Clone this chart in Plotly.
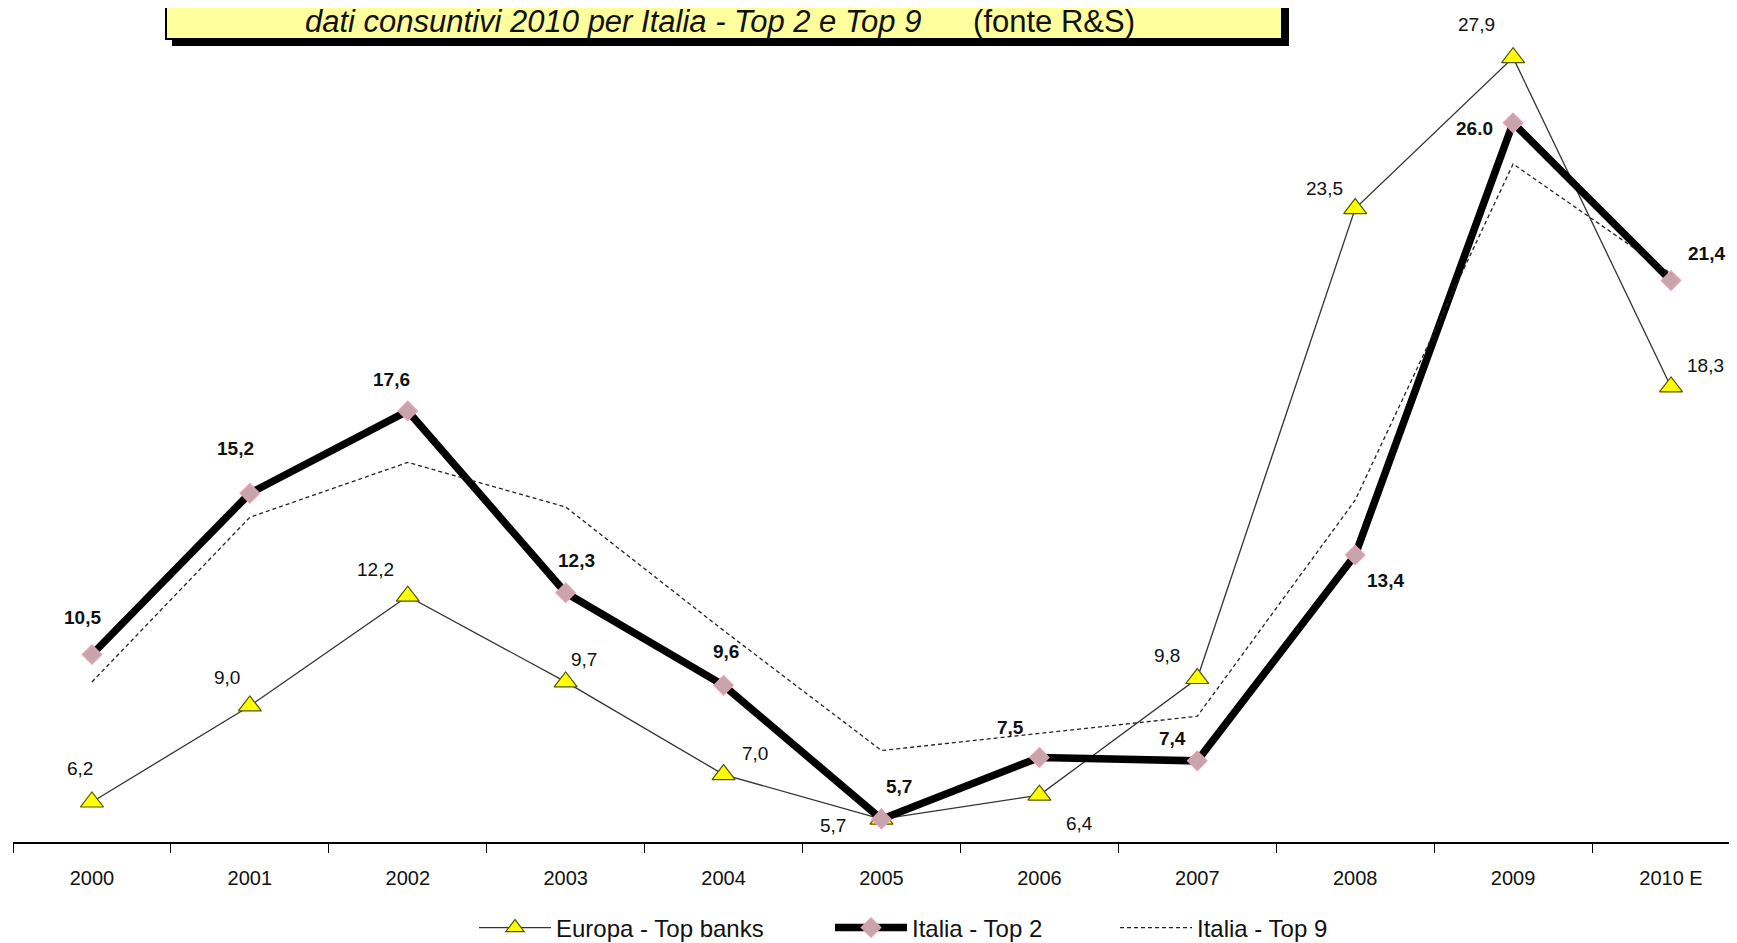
import plotly.graph_objects as go

years = ["2000", "2001", "2002", "2003", "2004", "2005", "2006", "2007", "2008", "2009", "2010 E"]
europa_top_banks = [6.2, 9.0, 12.2, 9.7, 7.0, 5.7, 6.4, 9.8, 23.5, 27.9, 18.3]
italia_top2 = [10.5, 15.2, 17.6, 12.3, 9.6, 5.7, 7.5, 7.4, 13.4, 26.0, 21.4]
italia_top9 = [9.7, 14.5, 16.1, 14.8, 11.2, 7.7, 8.2, 8.7, 15.0, 24.8, 21.6]

europa_labels = ["6,2", "9,0", "12,2", "9,7", "7,0", "5,7", "6,4", "9,8", "23,5", "27,9", "18,3"]
top2_labels = ["10,5", "15,2", "17,6", "12,3", "9,6", "5,7", "7,5", "7,4", "13,4", "26.0", "21,4"]

# label offsets in px (dx, dy up)
europa_off = [(-12, 34), (-23, 28), (-32, 27), (18, 22), (31, 21), (-48, -6),
              (40, -28), (-30, 23), (-31, 20), (-37, 33), (34, 21)]
top2_off = [(-9, 37), (-14, 45), (-16, 31), (11, 32), (2, 34), (18, 33),
            (-29, 30), (-25, 22), (30, -25), (-39, -6), (35, 27)]

FONT = "Liberation Sans, Arial, sans-serif"
OFF = 8  # page body margin
W, H = 1737 - OFF, 943 - OFF
L, R, T = 13 - OFF, 0, 0
PLOT_BOTTOM = 842 - OFF
B = H - PLOT_BOTTOM
PW, PH = W - L - R, PLOT_BOTTOM - T


def px_x(p):
    return (p - OFF - L) / PW


def px_y(p):
    return 1 - (p - OFF - T) / PH


fig = go.Figure()
fig.add_trace(go.Scatter(
    x=years, y=europa_top_banks, name="Europa - Top banks", mode="lines+markers",
    line=dict(color="#333333", width=1.3),
    marker=dict(symbol="triangle-up", size=20, color="#FFFF00",
                line=dict(color="#555500", width=1.2)),
    cliponaxis=False, legend="legend",
))
fig.add_trace(go.Scatter(
    x=years, y=italia_top2, name="Italia - Top 2", mode="lines+markers",
    line=dict(color="#000000", width=7.5),
    marker=dict(symbol="diamond", size=15, color="#C8A4AC",
                line=dict(color="#E8A0B4", width=1.2)),
    cliponaxis=False, legend="legend2",
))
fig.add_trace(go.Scatter(
    x=years, y=italia_top9, name="Italia - Top 9", mode="lines",
    line=dict(color="#222222", width=1.3, dash="4px,3px"),
    cliponaxis=False, legend="legend3",
))

annotations = []
for i, (yv, t, (dx, dy)) in enumerate(zip(europa_top_banks, europa_labels, europa_off)):
    annotations.append(dict(x=i, y=yv, text=t, showarrow=False, xshift=dx, yshift=dy,
                            font=dict(family=FONT, size=19, color="#111111")))
for i, (yv, t, (dx, dy)) in enumerate(zip(italia_top2, top2_labels, top2_off)):
    annotations.append(dict(x=i, y=yv, text="<b>" + t + "</b>", showarrow=False, xshift=dx, yshift=dy,
                            font=dict(family=FONT, size=19, color="#111111")))

# title box
shapes = [
    dict(type="rect", xref="paper", yref="paper", x0=px_x(172), x1=px_x(1289),
         y0=px_y(46), y1=px_y(-30), fillcolor="#000000", line=dict(width=0), layer="above"),
    dict(type="rect", xref="paper", yref="paper", x0=px_x(166), x1=px_x(1282),
         y0=px_y(39), y1=px_y(-30), fillcolor="#FFFF9E", line=dict(color="#000000", width=2), layer="above"),
]
annotations.append(dict(
    xref="paper", yref="paper", x=px_x(720), y=px_y(21), xanchor="center", yanchor="middle",
    text="<i>dati consuntivi 2010 per Italia - Top 2 e Top 9</i>\u00a0\u00a0\u00a0\u00a0\u00a0\u00a0(fonte R&S)",
    showarrow=False, font=dict(family=FONT, size=31, color="#111111"),
))

legend_common = dict(orientation="h", yanchor="middle", xanchor="left",
                     font=dict(family=FONT, size=24, color="#111111"), itemwidth=72,
                     bgcolor="rgba(0,0,0,0)")

fig.update_layout(
    width=W, height=H,
    margin=dict(l=L, r=R, t=T, b=B, autoexpand=False),
    paper_bgcolor="white", plot_bgcolor="white",
    showlegend=True,
    legend=dict(x=px_x(474), y=px_y(928), **legend_common),
    legend2=dict(x=px_x(830), y=px_y(928), **legend_common),
    legend3=dict(x=px_x(1115), y=px_y(928), **legend_common),
    xaxis=dict(type="category", range=[-0.5, (1737 - 92) / 157.9], showgrid=False, zeroline=False,
               showline=True, linecolor="#000000", linewidth=2, automargin=False,
               ticks="outside", tickson="boundaries", ticklen=9, tickcolor="#000000", tickwidth=1,
               ticklabelstandoff=17,
               tickfont=dict(family=FONT, size=20, color="#111111")),
    yaxis=dict(range=[5.034, 29.58 - OFF / 34.3], visible=False, showgrid=False, zeroline=False,
               automargin=False),
    shapes=shapes,
    annotations=annotations,
)

fig.write_html("out.html")
